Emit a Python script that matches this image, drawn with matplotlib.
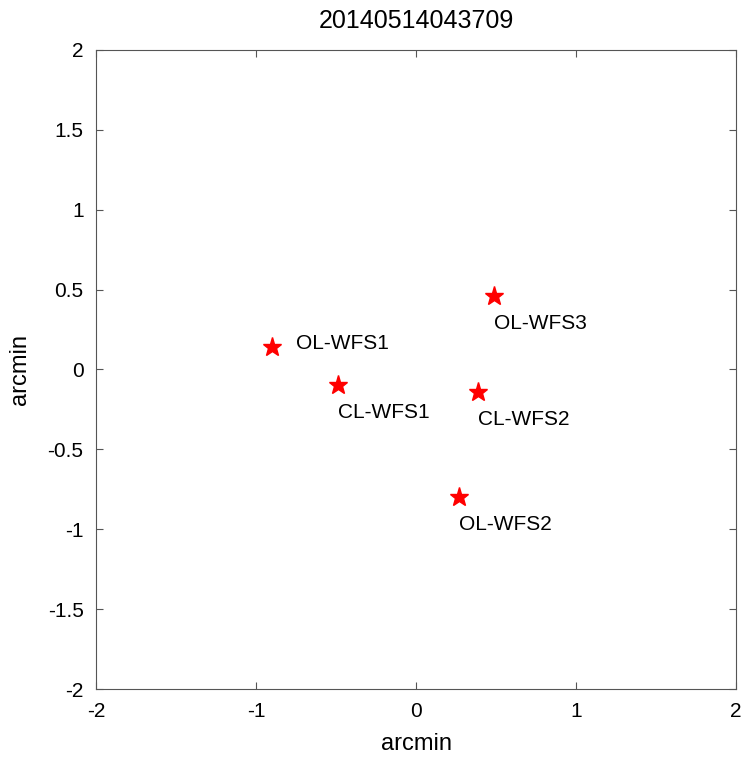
import matplotlib.pyplot as plt

plt.rcParams['font.family'] = ['Liberation Sans', 'DejaVu Sans']

# WFS positions on sky (arcmin)
names = ['OL-WFS1', 'CL-WFS1', 'OL-WFS3', 'CL-WFS2', 'OL-WFS2']
xs = [-0.90, -0.49, 0.49, 0.39, 0.27]
ys = [0.14, -0.10, 0.46, -0.14, -0.80]
label_side = ['right', 'below', 'below', 'below', 'below']

fig = plt.figure(figsize=(7.42, 7.57), dpi=100)
ax = fig.add_axes([0.1294, 0.0898, 0.8625, 0.8442])

ax.plot(xs, ys, linestyle='none', marker='*', color='red', markersize=14)
for name, x, y, side in zip(names, xs, ys, label_side):
    if side == 'right':
        ax.text(x + 0.15, y + 0.02, name, fontsize=15, va='center', ha='left')
    else:
        ax.text(x, y - 0.17, name, fontsize=15, va='center', ha='left')

ax.set_xlim(-2, 2)
ax.set_ylim(-2, 2)
ax.set_xticks([-2, -1, 0, 1, 2])
ax.set_yticks([-2, -1.5, -1, -0.5, 0, 0.5, 1, 1.5, 2])
ax.set_yticklabels(['-2', '-1.5', '-1', '-0.5', '0', '0.5', '1', '1.5', '2'])
ax.set_xticklabels(['-2', '-1', '0', '1', '2'])
ax.tick_params(direction='in', top=True, right=True, labelsize=15,
               color='#555555', length=5, pad=9)
for s in ax.spines.values():
    s.set_color('#555555')
ax.set_xlabel('arcmin', fontsize=17, labelpad=9)
ax.set_ylabel('arcmin', fontsize=17, labelpad=12)
ax.set_title('20140514043709', fontsize=18, pad=16)

fig.savefig('out.png', dpi=100)
